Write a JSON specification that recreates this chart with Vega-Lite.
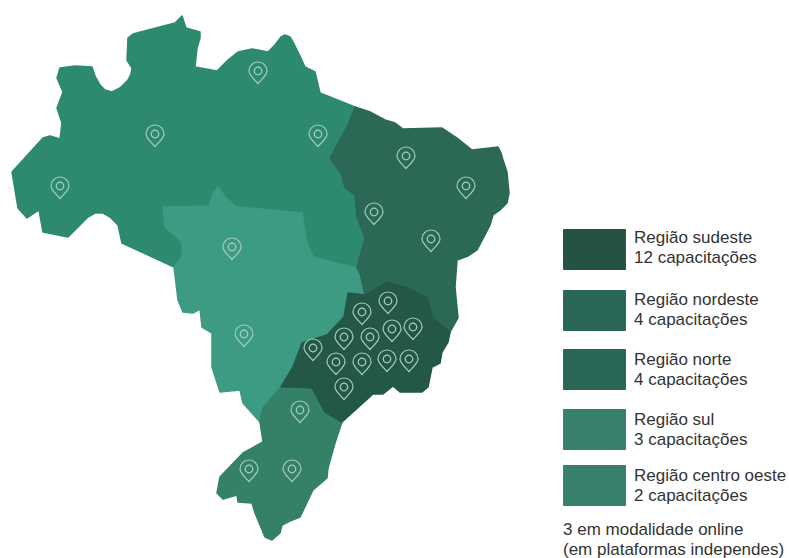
{
"$schema":"https://vega.github.io/schema/vega-lite/v6.json",
"width":789,"height":558,"padding":0,"autosize":{"type":"none"},"background":"white",
"projection":{"type":"identity","reflectY":true,"scale":10,"translate":[600,50]},
"layer":[
{"data":{"values":[
{"type":"Feature","regiao":"Norte","geometry":{"type":"Polygon","coordinates":[[[-58.8,-12.2],[-55.7,-8.8],[-55,-8.6],[-54,-8.9],[-53.8,-7.3],[-54.3,-5.8],[-53.7,-4.2],[-54.3,-2.8],[-54,-1.8],[-52.5,-1.6],[-50.8,-1.7],[-50.5,-2.6],[-50,-3.5],[-49.5,-4],[-48.8,-4.2],[-48,-3.8],[-47.2,-3],[-46.9,-2.4],[-46.8,-1.8],[-47.3,-1],[-47.2,1.2],[-46.7,1.6],[-42.5,2.7],[-41.8,3.4],[-41.4,2.2],[-40,1.8],[-40,1.2],[-40.3,0.2],[-40.5,-1.7],[-38.3,-2.1],[-37.2,-1],[-36.2,-0.2],[-34.8,0.1],[-33.2,-0.2],[-32.5,0.5],[-31.9,1.3],[-31.5,1.5],[-31,1.3],[-30.7,0.8],[-30,-0.6],[-29.5,-1.7],[-28.5,-2.2],[-28,-4.3],[-24.5,-5.7],[-25.2,-7.5],[-27,-10.8],[-25.8,-12.5],[-25.5,-13.8],[-24.5,-14.5],[-24.3,-16.7],[-23.5,-18.8],[-24.3,-21.8],[-26,-21.4],[-28.7,-20.7],[-29.3,-19.3],[-29.8,-16.3],[-34,-15.9],[-36.3,-15.7],[-37.5,-14.7],[-38.2,-13.7],[-38.7,-14.3],[-39.1,-15.6],[-43.7,-15.7],[-43.5,-17.7],[-41.8,-19.2],[-41.8,-20.7],[-42.6,-21.7],[-47.8,-19.3],[-48.2,-17.5],[-49,-16.7],[-49.7,-16.3],[-50.5,-16.3],[-51.2,-16.7],[-53.2,-18.7],[-55.7,-18.2],[-56.1,-16],[-57.3,-16.8],[-58.2,-15.8],[-58.8,-12.2]]]}},
{"type":"Feature","regiao":"Centro oeste","geometry":{"type":"Polygon","coordinates":[[[-43.7,-15.7],[-39.1,-15.6],[-38.7,-14.3],[-38.2,-13.7],[-37.5,-14.7],[-36.3,-15.7],[-34,-15.9],[-29.8,-16.3],[-29.3,-19.3],[-28.7,-20.7],[-26,-21.4],[-24.3,-21.8],[-24,-22.3],[-23.5,-24.5],[-25.2,-24.3],[-25.6,-26.7],[-27.3,-28.5],[-29.8,-29.3],[-30.7,-31.7],[-31.9,-33.7],[-33.7,-35.8],[-34,-37.2],[-35.7,-35.3],[-36,-34],[-38,-34.2],[-38.8,-31.7],[-38.8,-28.3],[-39.8,-27.7],[-40,-25.9],[-40.7,-26.3],[-41.7,-26.2],[-42.2,-25],[-42.6,-21.7],[-41.8,-20.7],[-41.8,-19.2],[-43.5,-17.7],[-43.7,-15.7]]]}},
{"type":"Feature","regiao":"Nordeste","geometry":{"type":"Polygon","coordinates":[[[-24.5,-5.7],[-23,-6.2],[-21.5,-7],[-20.5,-7.3],[-19.7,-7.9],[-15.8,-7.8],[-14.3,-8.8],[-12.8,-10],[-11,-9.8],[-10.2,-9.7],[-9.9,-10.3],[-9.7,-11],[-9.3,-12.2],[-9.2,-13.3],[-9.1,-14.3],[-9.3,-15.3],[-10,-16],[-10.7,-16.5],[-11,-17.5],[-11.5,-18.5],[-12.3,-20],[-13.2,-20.6],[-14.3,-21],[-14.5,-23.7],[-14.2,-26.8],[-15,-28.2],[-16.7,-26.8],[-17.3,-24.8],[-19.3,-23.8],[-21.2,-23.2],[-23.5,-24.5],[-24,-22.3],[-24.3,-21.8],[-23.5,-18.8],[-24.3,-16.7],[-24.5,-14.5],[-25.5,-13.8],[-25.8,-12.5],[-27,-10.8],[-25.2,-7.5],[-24.5,-5.7]]]}},
{"type":"Feature","regiao":"Sul","geometry":{"type":"Polygon","coordinates":[[[-31.9,-33.7],[-30,-33.7],[-28.8,-33.8],[-27.5,-36.2],[-25.8,-37.2],[-26.5,-39.3],[-27.2,-41.8],[-27.3,-42.8],[-28.7,-44],[-30,-46.7],[-31,-47.1],[-31.8,-47.5],[-32,-48.3],[-32.8,-49],[-33.5,-48.7],[-34.5,-46.3],[-34.8,-45.3],[-36.2,-45.2],[-36.3,-44.5],[-37.7,-44.9],[-38.3,-44.3],[-38,-42.7],[-35.7,-40.3],[-33.7,-39.2],[-34,-37.2],[-33.7,-35.8],[-31.9,-33.7]]]}},
{"type":"Feature","regiao":"Sudeste","geometry":{"type":"Polygon","coordinates":[[[-21.2,-23.2],[-19.3,-23.8],[-17.3,-24.8],[-16.7,-26.8],[-15,-28.2],[-15.2,-29.2],[-15.8,-30.2],[-16,-31.3],[-16.8,-31.7],[-17.2,-33.7],[-17.8,-34.2],[-20,-34.2],[-20.7,-33.6],[-21.7,-34.4],[-22.7,-34.4],[-25.8,-37.2],[-27.5,-36.2],[-28.8,-33.8],[-30,-33.7],[-31.9,-33.7],[-30.7,-31.7],[-29.8,-29.3],[-27.3,-28.5],[-25.6,-26.7],[-25.2,-24.3],[-23.5,-24.5],[-21.2,-23.2]]]}},
{"type":"Feature","regiao":"Legenda sudeste","geometry":{"type":"Polygon","coordinates":[[[-3.62,-17.98],[2.52,-17.98],[2.52,-21.92],[-3.62,-21.92],[-3.62,-17.98]]]}},
{"type":"Feature","regiao":"Legenda nordeste","geometry":{"type":"Polygon","coordinates":[[[-3.62,-24.08],[2.52,-24.08],[2.52,-28.02],[-3.62,-28.02],[-3.62,-24.08]]]}},
{"type":"Feature","regiao":"Legenda norte","geometry":{"type":"Polygon","coordinates":[[[-3.62,-29.98],[2.52,-29.98],[2.52,-33.92],[-3.62,-33.92],[-3.62,-29.98]]]}},
{"type":"Feature","regiao":"Legenda sul","geometry":{"type":"Polygon","coordinates":[[[-3.62,-35.98],[2.52,-35.98],[2.52,-39.92],[-3.62,-39.92],[-3.62,-35.98]]]}},
{"type":"Feature","regiao":"Legenda centro oeste","geometry":{"type":"Polygon","coordinates":[[[-3.62,-41.58],[2.52,-41.58],[2.52,-45.52],[-3.62,-45.52],[-3.62,-41.58]]]}}
]},
"mark":{"type":"geoshape","strokeWidth":1.5,"strokeJoin":"round"},
"encoding":{"color":{"field":"regiao","type":"nominal","legend":null,"sort":null,"scale":{
"domain":["Norte","Centro oeste","Nordeste","Sul","Sudeste","Legenda sudeste","Legenda nordeste","Legenda norte","Legenda sul","Legenda centro oeste"],
"range":["#2e8a6f","#3e9b83","#2b6856","#358069","#235746","#245346","#2a6756","#2a6655","#37806c","#37806c"]}},
"stroke":{"field":"regiao","type":"nominal","legend":null,"sort":null,"scale":{
"domain":["Norte","Centro oeste","Nordeste","Sul","Sudeste","Legenda sudeste","Legenda nordeste","Legenda norte","Legenda sul","Legenda centro oeste"],
"range":["#2e8a6f","#3e9b83","#2b6856","#358069","#235746","#245346","#2a6756","#2a6655","#37806c","#37806c"]}}}},
{"data":{"values":[
{"regiao":"Norte","lon":-34.2,"lat":-2.1},{"regiao":"Norte","lon":-44.5,"lat":-8.4},{"regiao":"Norte","lon":-28.2,"lat":-8.4},{"regiao":"Norte","lon":-54,"lat":-13.6},
{"regiao":"Nordeste","lon":-19.4,"lat":-10.6},{"regiao":"Nordeste","lon":-13.4,"lat":-13.6},{"regiao":"Nordeste","lon":-22.6,"lat":-16.2},{"regiao":"Nordeste","lon":-16.9,"lat":-18.9},
{"regiao":"Centro oeste","lon":-36.8,"lat":-19.7},{"regiao":"Centro oeste","lon":-35.6,"lat":-28.4},
{"regiao":"Sudeste","lon":-21.2,"lat":-25.1},{"regiao":"Sudeste","lon":-23.8,"lat":-26.2},{"regiao":"Sudeste","lon":-18.7,"lat":-27.7},{"regiao":"Sudeste","lon":-20.8,"lat":-27.9},{"regiao":"Sudeste","lon":-23,"lat":-28.7},{"regiao":"Sudeste","lon":-25.6,"lat":-28.7},{"regiao":"Sudeste","lon":-28.7,"lat":-29.8},{"regiao":"Sudeste","lon":-26.4,"lat":-31.2},{"regiao":"Sudeste","lon":-23.8,"lat":-31.2},{"regiao":"Sudeste","lon":-21.3,"lat":-30.9},{"regiao":"Sudeste","lon":-19.1,"lat":-30.9},{"regiao":"Sudeste","lon":-25.6,"lat":-33.7},
{"regiao":"Sul","lon":-30,"lat":-36},{"regiao":"Sul","lon":-35.1,"lat":-41.9},{"regiao":"Sul","lon":-30.8,"lat":-41.9}
]},
"mark":{"type":"point","filled":false,"size":324,"stroke":"#a8cfc3","strokeWidth":1.2,"opacity":1,
"shape":"M0,1.4 C-.3,1 -1,.5 -1,0 C-1,-.55 -.55,-1 0,-1 C.55,-1 1,-.55 1,0 C1,.5 .3,1 0,1.4Z M.42,0 C.42,.23 .23,.42 0,.42 C-.23,.42 -.42,.23 -.42,0 C-.42,-.23 -.23,-.42 0,-.42 C.23,-.42 .42,-.23 .42,0Z"},
"encoding":{"longitude":{"field":"lon","type":"quantitative"},"latitude":{"field":"lat","type":"quantitative"}}},
{"data":{"values":[
{"texto":"Região sudeste|12 capacitações","lon":3.4,"lat":-18.8},
{"texto":"Região nordeste|4 capacitações","lon":3.4,"lat":-25},
{"texto":"Região norte|4 capacitações","lon":3.4,"lat":-31},
{"texto":"Região sul|3 capacitações","lon":3.4,"lat":-37},
{"texto":"Região centro oeste|2 capacitações","lon":3.4,"lat":-42.6},
{"texto":"3 em modalidade online|(em plataformas independes)","lon":-3.7,"lat":-48}
]},
"mark":{"type":"text","align":"left","baseline":"middle","lineBreak":"|","lineHeight":20,"font":"Liberation Sans","fontSize":17,"color":"#333333"},
"encoding":{"longitude":{"field":"lon","type":"quantitative"},"latitude":{"field":"lat","type":"quantitative"},"text":{"field":"texto","type":"nominal"}}}
]
}
